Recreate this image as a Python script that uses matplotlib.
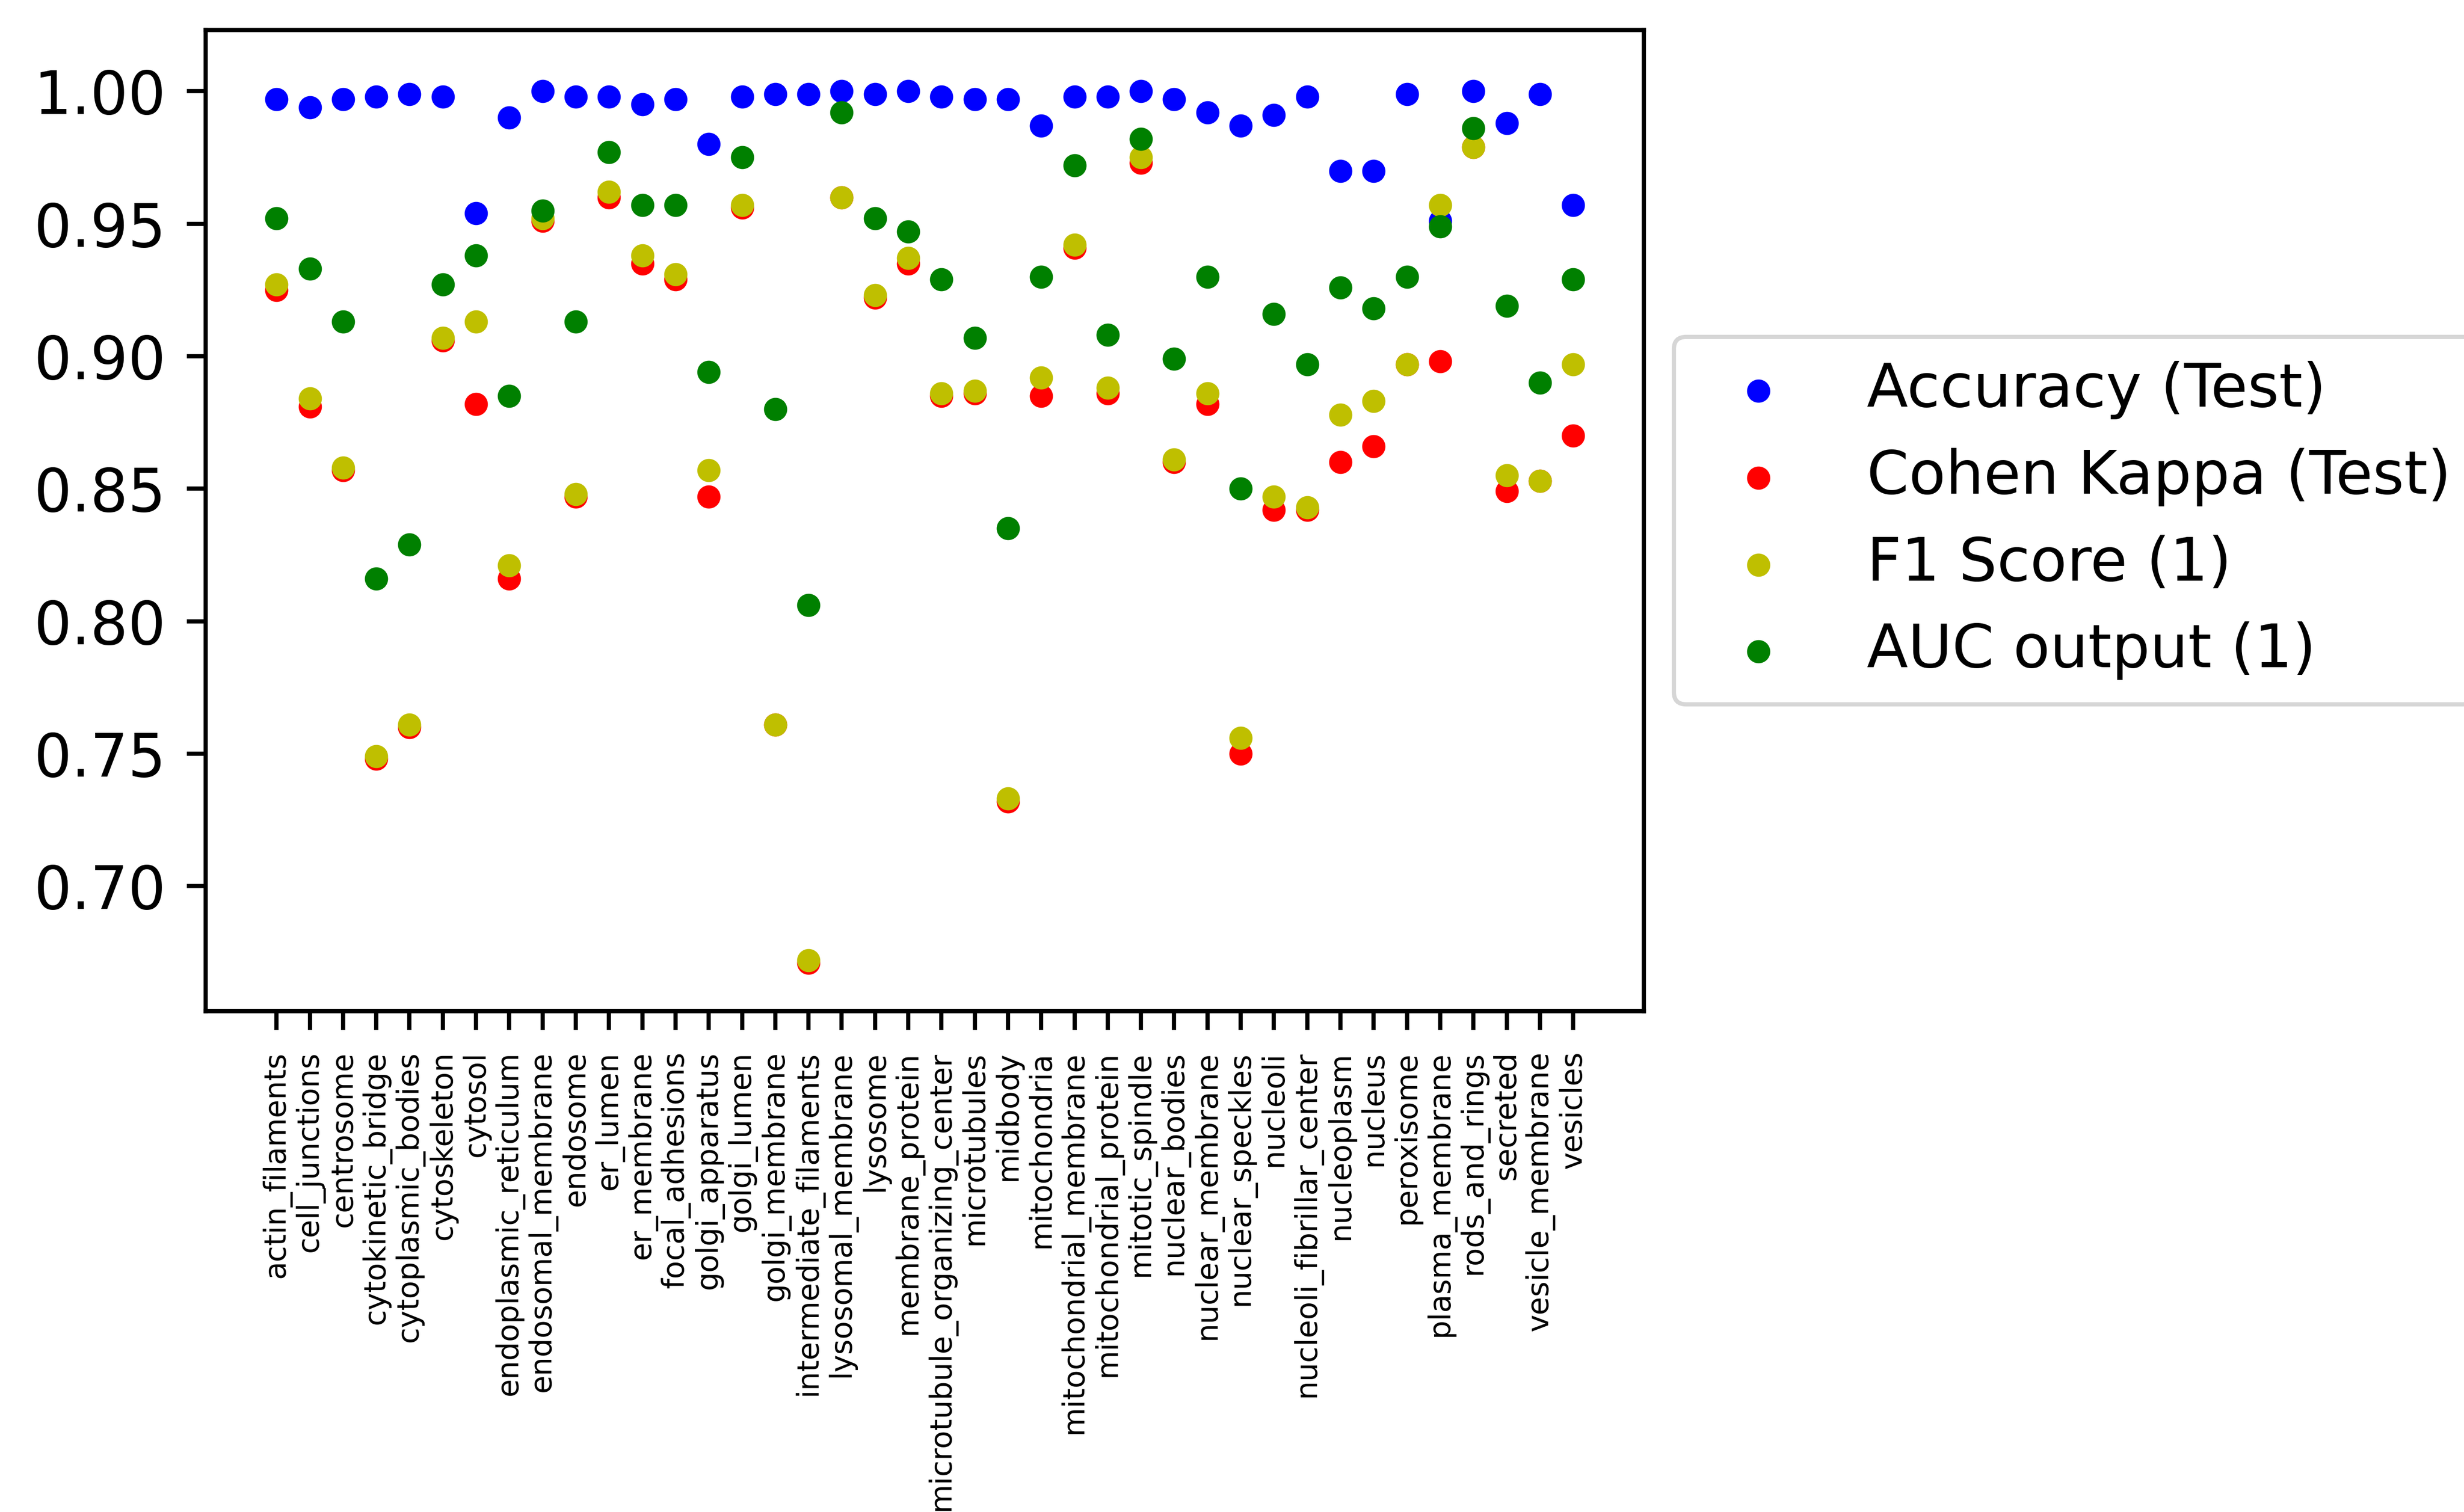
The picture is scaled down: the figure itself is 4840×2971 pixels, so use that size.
import numpy as np
import matplotlib
matplotlib.use("Agg")
from matplotlib import pyplot as plt

classes = ["actin_filaments", "cell_junctions", "centrosome", "cytokinetic_bridge",
           "cytoplasmic_bodies", "cytoskeleton", "cytosol", "endoplasmic_reticulum",
           "endosomal_membrane", "endosome", "er_lumen", "er_membrane",
           "focal_adhesions", "golgi_apparatus", "golgi_lumen", "golgi_membrane",
           "intermediate_filaments", "lysosomal_membrane", "lysosome", "membrane_protein",
           "microtubule_organizing_center", "microtubules", "midbody", "mitochondria",
           "mitochondrial_membrane", "mitochondrial_protein", "mitotic_spindle", "nuclear_bodies",
           "nuclear_membrane", "nuclear_speckles", "nucleoli", "nucleoli_fibrillar_center",
           "nucleoplasm", "nucleus", "peroxisome", "plasma_membrane",
           "rods_and_rings", "secreted", "vesicle_membrane", "vesicles"]

accuracy = [0.997, 0.994, 0.997, 0.998, 0.999, 0.998, 0.954, 0.990, 1.000, 0.998,
            0.998, 0.995, 0.997, 0.980, 0.998, 0.999, 0.999, 1.000, 0.999, 1.000,
            0.998, 0.997, 0.997, 0.987, 0.998, 0.998, 1.000, 0.997, 0.992, 0.987,
            0.991, 0.998, 0.970, 0.970, 0.999, 0.951, 1.000, 0.988, 0.999, 0.957]

kappa = [0.925, 0.881, 0.857, 0.748, 0.760, 0.906, 0.882, 0.816, 0.951, 0.847,
         0.960, 0.935, 0.929, 0.847, 0.956, 0.761, 0.671, 0.960, 0.922, 0.935,
         0.885, 0.886, 0.732, 0.885, 0.941, 0.886, 0.973, 0.860, 0.882, 0.750,
         0.842, 0.842, 0.860, 0.866, 0.897, 0.898, 0.979, 0.849, 0.853, 0.870]

f1 = [0.927, 0.884, 0.858, 0.749, 0.761, 0.907, 0.913, 0.821, 0.952, 0.848,
      0.962, 0.938, 0.931, 0.857, 0.957, 0.761, 0.672, 0.960, 0.923, 0.937,
      0.886, 0.887, 0.733, 0.892, 0.942, 0.888, 0.975, 0.861, 0.886, 0.756,
      0.847, 0.843, 0.878, 0.883, 0.897, 0.957, 0.979, 0.855, 0.853, 0.897]

auc = [0.952, 0.933, 0.913, 0.816, 0.829, 0.927, 0.938, 0.885, 0.955, 0.913,
       0.977, 0.957, 0.957, 0.894, 0.975, 0.880, 0.806, 0.992, 0.952, 0.947,
       0.929, 0.907, 0.835, 0.930, 0.972, 0.908, 0.982, 0.899, 0.930, 0.850,
       0.916, 0.897, 0.926, 0.918, 0.930, 0.949, 0.986, 0.919, 0.890, 0.929]

yticks = [0.70, 0.75, 0.80, 0.85, 0.90, 0.95, 1.00]

fig = plt.figure(figsize=(4840 / 600, 2971 / 600), dpi=600)
ax = fig.add_axes([0.0835, 0.3312, 0.5837, 0.6491])

x = np.arange(len(classes))
ax.scatter(x, accuracy, s=20, c='b', label='Accuracy (Test)')
ax.scatter(x, kappa, s=20, c='r', label='Cohen Kappa (Test)')
ax.scatter(x, f1, s=20, c='y', label='F1 Score (1)')
ax.scatter(x, auc, s=20, c='g', label='AUC output (1)')

ax.set_xlim(-2.13, 41.13)
ax.set_ylim(0.6528, 1.0232)
ax.set_yticks(yticks)
ax.set_xticks(x)
ax.set_xticklabels(classes, rotation=90, fontsize=7)
ax.tick_params(axis='y', labelsize=14)
ax.tick_params(length=4.4, width=1.0, pad=5)
for sp in ax.spines.values():
    sp.set_linewidth(1.0)

# legend sits outside on the right and runs past the figure edge, as in the original
ax.legend(loc='center left', bbox_to_anchor=(1, 0.5), fontsize=14.2, labelspacing=0.47)

fig.savefig('out.png', dpi=600)
